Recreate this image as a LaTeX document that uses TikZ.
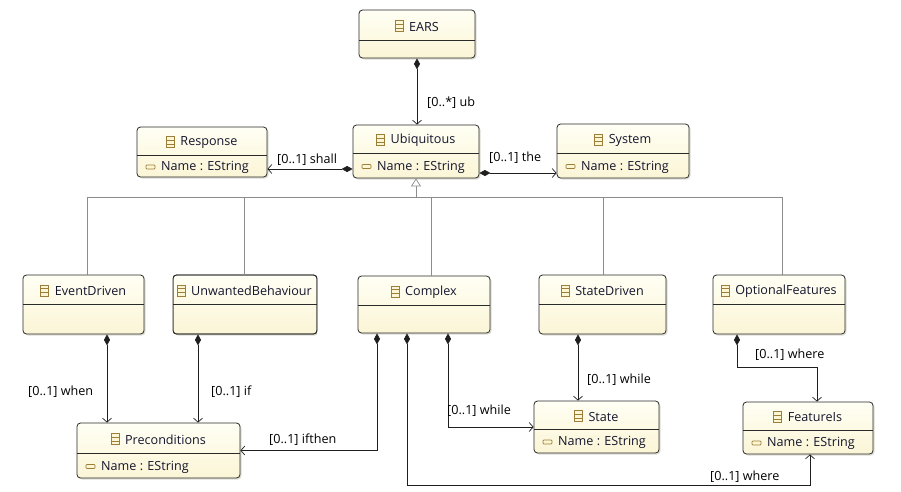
\documentclass[tikz,border=0pt]{standalone}
\usepackage{fontspec}
\setmainfont{Open Sans}
\usetikzlibrary{arrows.meta,calc}
\definecolor{boxtop}{HTML}{FFFFF4}
\definecolor{boxbot}{HTML}{FBF5D6}
\definecolor{boxline}{HTML}{2A2A2A}
\definecolor{iconc}{HTML}{9C7D3A}
\definecolor{iconfill}{HTML}{FDF6D2}
\definecolor{txtc}{HTML}{15152E}
\definecolor{genc}{HTML}{8C8C8C}
\definecolor{shadc}{HTML}{DEDED6}
\newcommand\fsz{\fontsize{12.6}{14}\selectfont}
\tikzset{
  box/.style={draw=boxline, line width=0.8pt, rounded corners=3.5pt, top color=boxtop, bottom color=boxbot, inner sep=0pt},
  shadowbox/.style={fill=shadc, rounded corners=3.5pt},
  divider/.style={draw=boxline, line width=0.8pt},
  ttl/.style={font=\fsz, text=txtc, inner sep=0pt, yshift=-1.5pt},
  attrtxt/.style={font=\fsz, text=txtc, inner sep=0pt, anchor=west, yshift=-1.5pt},
  clsicon/.style={draw=iconc, line width=0.7pt, fill=iconfill},
  attricon/.style={draw=iconc, line width=0.7pt, fill=iconfill, rounded corners=0.8pt},
  conn/.style={draw=black!88, line width=0.7pt},
  comp/.style={conn, {Diamond[length=11pt,width=6pt]}-{Straight Barb[length=4pt,width=9pt]}},
  genline/.style={draw=genc, line width=0.7pt},
  gen/.style={genline, -{Triangle[open,length=8pt,width=10pt,fill=white]}},
  lbl/.style={font=\fsz, text=black, inner sep=0pt, anchor=west},
}
% #1 name, #2 x1, #3 y1, #4 x2, #5 y2, #6 ydiv, #7 title, #8 attribute (1/0), #9 title left offset (0 = centred)
\newcommand\umlclass[9]{%
  \fill[shadowbox] (#2+1.5,#3+1.5) rectangle (#4+1.5,#5+1.5);
  \node[box, minimum width=#4-#2, minimum height=#5-#3] (#1) at ({(#2+#4)/2},{(#3+#5)/2}) {};
  \draw[divider] (#2,#6) -- (#4,#6);
  \ifdim#9pt=0pt
    \node[ttl] (#1-t) at ({(#2+#4)/2+7},{(#3+#6)/2}) {#7};
  \else
    \node[ttl, anchor=west] (#1-t) at (#2+#9,{(#3+#6)/2}) {#7};
  \fi
  \draw[clsicon] ([xshift=-14pt,yshift=-5pt]#1-t.west) rectangle ([xshift=-6pt,yshift=6pt]#1-t.west);
  \draw[iconc, line width=0.6pt] ([xshift=-14pt,yshift=-1.3pt]#1-t.west) -- ([xshift=-6pt,yshift=-1.3pt]#1-t.west)
     ([xshift=-14pt,yshift=2.3pt]#1-t.west) -- ([xshift=-6pt,yshift=2.3pt]#1-t.west);
  \ifnum#8=1
    \node[attrtxt] (#1-a) at (#2+24,{(#6+#5)/2}) {Name : EString};
    \draw[attricon] ([xshift=-15pt,yshift=-1.5pt]#1-a.west) rectangle ([xshift=-6pt,yshift=2.5pt]#1-a.west);
  \fi
}
\begin{document}
\begin{tikzpicture}[x=1pt,y=-1pt]
\useasboundingbox[fill=white] (0,0) rectangle (901,491);

\umlclass{ears}{359}{10}{475}{58}{40}{EARS}{0}{0}
\umlclass{ubq}{353}{125}{479}{178}{153}{Ubiquitous}{1}{0}
\umlclass{resp}{137}{127}{267}{177}{155}{Response}{1}{0}
\umlclass{sys}{557}{124}{689}{178}{153}{System}{1}{0}

\umlclass{ed}{23}{275}{144}{334}{304}{EventDriven}{0}{0}
\begin{scope}
\clip (173,270) rectangle (317,340);
\umlclass{ub}{173}{275}{317}{334}{304}{UnwantedBehaviour}{0}{18}
\end{scope}
\draw[boxline, line width=0.8pt, rounded corners=3.5pt] (173,275) rectangle (317,334);
\umlclass{cx}{358}{276}{490}{333}{305}{Complex}{0}{0}
\umlclass{sd}{539}{275}{666}{334}{304}{StateDriven}{0}{0}
\umlclass{of}{713}{275}{845}{334}{304}{OptionalFeatures}{0}{0}

\umlclass{pre}{77}{423}{240}{478}{453}{Preconditions}{1}{0}
\umlclass{st}{534}{401}{659}{453}{429}{State}{1}{0}
\umlclass{fi}{743}{402}{873}{454}{430}{FeatureIs}{1}{0}

% compositions, upper part
\draw[comp] (ears.south) -- (ears.south |- ubq.north);
\node[lbl] (l-ub) at (427,103) {[0..*] ub};
\draw[comp] ([yshift=-17.5pt]ubq.west) -- ([yshift=-17.5pt]ubq.west -| resp.east);
\node[lbl] (l-shall) at (277,160) {[0..1] shall};
\draw[comp] ([yshift=-21.5pt]ubq.east) -- ([yshift=-21.5pt]ubq.east -| sys.west);
\node[lbl] (l-the) at (489,158) {[0..1] the};

% generalizations
\coordinate (gj) at (416,197);
\draw[gen] (gj) -- (ubq.south);
\draw[genline] (87,0 |- ed.north) |- (gj);
\draw[genline] (244,0 |- ub.north) |- (gj);
\draw[genline] (431,0 |- cx.north) -- (431,0 |- gj);
\draw[genline] (603,0 |- sd.north) |- (gj);
\draw[genline] (782,0 |- of.north) |- (gj);

% compositions, lower part
\draw[comp] (107,0 |- ed.south) -- (107,0 |- pre.north);
\node[lbl] (l-when) at (28,392) {[0..1] when};
\draw[comp] (198,0 |- ub.south) -- (198,0 |- pre.north);
\node[lbl] (l-if) at (211,392) {[0..1] if};
\draw[comp] (377,0 |- cx.south) |- (pre.east);
\node[lbl] (l-ifthen) at (269,440) {[0..1] ifthen};
\draw[comp] (448,0 |- cx.south) |- (st.west);
\node[lbl] (l-while1) at (447,411) {[0..1] while};
\coordinate (wc) at (810,485);
\draw[comp] (407,0 |- cx.south) |- (wc) -- (810,0 |- fi.south);
\node[lbl] (l-where2) at (710,477) {[0..1] where};
\draw[comp] (578,0 |- sd.south) -- (578,0 |- st.north);
\node[lbl] (l-while2) at (587,380) {[0..1] while};
\coordinate (wo) at (817,367);
\draw[comp] (737,0 |- of.south) |- (wo) -- (817,0 |- fi.north);
\node[lbl] (l-where1) at (755,355) {[0..1] where};
\end{tikzpicture}
\end{document}
